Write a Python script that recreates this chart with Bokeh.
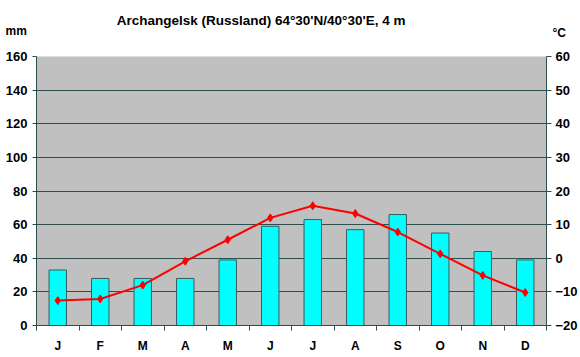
from bokeh.plotting import figure
from bokeh.models import Range1d, LinearAxis, FixedTicker, Label, ColumnDataSource
from bokeh.embed import file_html
from bokeh.resources import INLINE

months = ["J", "F", "M", "A", "M", "J", "J", "A", "S", "O", "N", "D"]
precip_mm = [33, 28, 28, 28, 39, 59, 63, 57, 66, 55, 44, 39]
temp_c = [-12.6, -12.1, -8.0, -0.9, 5.5, 12.0, 15.6, 13.3, 7.8, 1.3, -5.1, -10.2]
mm_ticks = [0, 20, 40, 60, 80, 100, 120, 140, 160]
c_ticks = [-20, -10, 0, 10, 20, 30, 40, 50, 60]
title_text = "Archangelsk (Russland) 64°30'N/40°30'E, 4 m"

FONT = "Liberation Sans"
GRID = "#2f4f4f"

xc = [i + 0.5 for i in range(len(months))]
src = ColumnDataSource(dict(x=xc, p=precip_mm, t=temp_c))

p = figure(width=580, height=357, output_backend="svg", toolbar_location=None,
           x_range=Range1d(0, len(months)), y_range=Range1d(mm_ticks[0], mm_ticks[-1]),
           min_border_left=36, min_border_right=33, min_border_top=56, min_border_bottom=32,
           background_fill_color="#c0c0c0", border_fill_color="white", outline_line_color=None)
p.extra_y_ranges = {"temp": Range1d(c_ticks[0], c_ticks[-1])}
p.title.visible = False
p.title.standoff = 0

p.vbar(x="x", top="p", bottom=0, width=0.41, source=src,
       fill_color="#00ffff", line_color="#3a5a5a", line_width=1)
p.line(x="x", y="t", source=src, y_range_name="temp", line_color="#ff0000", line_width=2)
p.scatter(x="x", y="t", source=src, y_range_name="temp", marker="diamond", size=8,
          fill_color="#ff0000", line_color="#ff0000")

xa = p.xaxis[0]
xa.ticker = FixedTicker(ticks=xc, minor_ticks=list(range(len(months) + 1)))
xa.major_label_overrides = {x: m for x, m in zip(xc, months)}
xa.major_tick_out = 0
xa.major_tick_in = 0
xa.minor_tick_out = 5
xa.minor_tick_in = 0
xa.minor_tick_line_color = GRID
xa.axis_line_color = GRID
xa.major_label_standoff = 8
xa.major_label_text_font = FONT
xa.major_label_text_font_style = "bold"
xa.major_label_text_font_size = "12px"
xa.major_label_text_color = "black"

ya = p.yaxis[0]
ya.ticker = FixedTicker(ticks=mm_ticks)
ya.major_tick_out = 4
ya.major_tick_in = 0
ya.minor_tick_out = 0
ya.minor_tick_in = 0
ya.major_tick_line_color = GRID
ya.axis_line_color = GRID
ya.major_label_standoff = 5
ya.major_label_text_font = FONT
ya.major_label_text_font_style = "bold"
ya.major_label_text_font_size = "13px"
ya.major_label_text_color = "black"

ra = LinearAxis(y_range_name="temp", ticker=FixedTicker(ticks=c_ticks))
ra.major_tick_out = 5
ra.major_tick_in = 0
ra.minor_tick_out = 0
ra.minor_tick_in = 0
ra.major_tick_line_color = GRID
ra.axis_line_color = GRID
ra.major_label_standoff = 4
ra.major_label_text_font = FONT
ra.major_label_text_font_style = "bold"
ra.major_label_text_font_size = "13px"
ra.major_label_text_color = "black"
p.add_layout(ra, "right")

p.xgrid.visible = False
p.ygrid.ticker = FixedTicker(ticks=mm_ticks[1:-1])
p.ygrid.grid_line_color = GRID
p.ygrid.grid_line_width = 1

# texts above the plot area (placed in the top panel so they are not clipped)
p.add_layout(Label(x=5.284, y=181.4, text=title_text,
                   text_font=FONT, text_font_style="bold", text_font_size="13.5px",
                   text_align="center", text_baseline="middle", text_color="black"), "above")
p.add_layout(Label(x=-0.728, y=174.9, text="mm",
                   text_font=FONT, text_font_style="bold", text_font_size="12px",
                   text_align="left", text_baseline="middle", text_color="black"), "above")
p.add_layout(Label(x=12.14, y=173.7, text="°C",
                   text_font=FONT, text_font_style="bold", text_font_size="12px",
                   text_align="left", text_baseline="middle", text_color="black"), "above")

open("out.html", "w").write(file_html(p, INLINE))
